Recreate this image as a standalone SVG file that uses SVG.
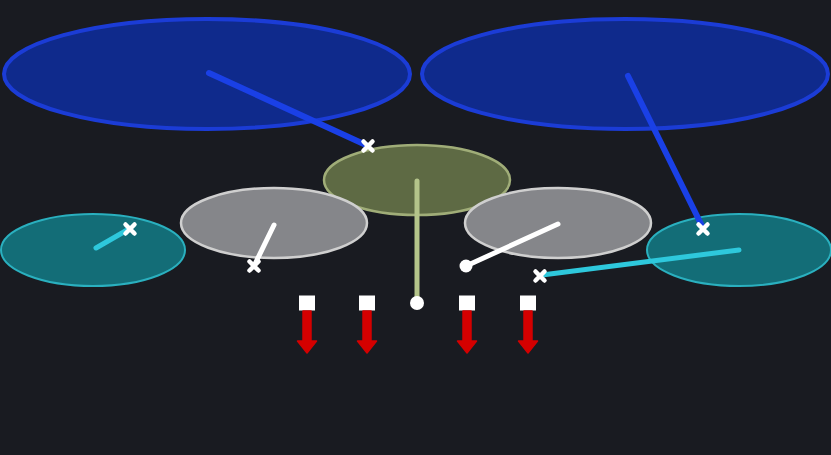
<svg xmlns="http://www.w3.org/2000/svg" width="831" height="455" viewBox="0 0 831 455">
<defs>
<style>
.blue{fill:#0f2a8c;stroke:#1b3cd6;stroke-width:4}
.olive{fill:#5e6a44;stroke:#a0ad78;stroke-width:2.5}
.gray{fill:#85868a;stroke:#cfcfcf;stroke-width:2.5}
.teal{fill:#136d77;stroke:#2ab0bf;stroke-width:2}
.ln{fill:none;stroke-linecap:round}
.x{stroke:#ffffff;stroke-width:4.5;stroke-linecap:round;fill:none}
.sq{fill:#ffffff}
.arrow{fill:#d40000;stroke:#d40000;stroke-width:1.5;stroke-linejoin:round}
</style>
<g id="xm"><path class="x" d="M-4.5,-4.5L4.5,4.5M4.5,-4.5L-4.5,4.5"/></g>
<g id="dn"><rect class="sq" x="-8" y="-7.5" width="16" height="15"/><rect class="arrow" x="-4" y="8" width="8" height="32"/><path class="arrow" d="M-9.5,38L9.5,38L0,50Z"/></g>
</defs>
<rect width="831" height="455" fill="#191b21"/>
<g id="node-blue-left"><ellipse class="blue" cx="207" cy="74" rx="203" ry="55"/></g>
<g id="node-blue-right"><ellipse class="blue" cx="625" cy="74" rx="203" ry="55"/></g>
<g id="node-olive"><ellipse class="olive" cx="417" cy="180" rx="93" ry="35"/></g>
<g id="node-gray-left"><ellipse class="gray" cx="274" cy="223" rx="93" ry="35"/></g>
<g id="node-gray-right"><ellipse class="gray" cx="558" cy="223" rx="93" ry="35"/></g>
<g id="node-teal-left"><ellipse class="teal" cx="93" cy="250" rx="92" ry="36"/></g>
<g id="node-teal-right"><ellipse class="teal" cx="739" cy="250" rx="92" ry="36"/></g>
<g id="connectors">
<line class="ln" x1="209" y1="73" x2="366" y2="145" stroke="#1a40e6" stroke-width="6"/>
<line class="ln" x1="628" y1="76" x2="702" y2="226" stroke="#1a40e6" stroke-width="6"/>
<line class="ln" x1="417" y1="181" x2="417" y2="302" stroke="#b4c48a" stroke-width="5"/>
<circle cx="417" cy="303" r="7" fill="#ffffff"/>
<line class="ln" x1="274" y1="225" x2="255" y2="264" stroke="#ffffff" stroke-width="5"/>
<line class="ln" x1="558" y1="224" x2="466" y2="266" stroke="#ffffff" stroke-width="5"/>
<circle cx="466" cy="266" r="6.5" fill="#ffffff"/>
<line class="ln" x1="96" y1="248" x2="129" y2="229" stroke="#2ec8dc" stroke-width="5"/>
<line class="ln" x1="739" y1="250" x2="542" y2="275" stroke="#2ec8dc" stroke-width="5"/>
<use href="#xm" x="368" y="146"/>
<use href="#xm" x="130" y="229"/>
<use href="#xm" x="254" y="266"/>
<use href="#xm" x="703" y="229"/>
<use href="#xm" x="540" y="276"/>
</g>
<g id="node-markers">
<use href="#dn" x="307" y="303"/>
<use href="#dn" x="367" y="303"/>
<use href="#dn" x="467" y="303"/>
<use href="#dn" x="528" y="303"/>
</g>
</svg>
